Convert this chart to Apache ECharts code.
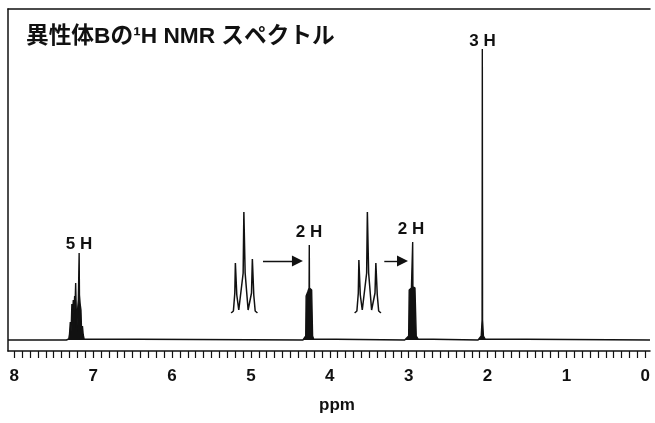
<!DOCTYPE html>
<html><head><meta charset="utf-8">
<script src="https://cdn.jsdelivr.net/npm/echarts@6/dist/echarts.min.js"></script>
<style>html,body{margin:0;padding:0;background:#fff}#c{width:655px;height:423px}</style>
</head><body><div id="c"></div>
<script>
// ---- text ----
const titleText = '異性体Bの¹H NMR スペクトル';
const axisName = 'ppm';
const tickLabelValues = [0, 1, 2, 3, 4, 5, 6, 7, 8];
const tickStep = 0.1;

// ---- peak annotations (label text, label centre ppm, label centre intensity) ----
const peakLabels = ['5 H', '2 H', '2 H', '3 H'];
const peakLabelPpm = [7.18, 4.264, 2.97, 2.064];
const peakLabelInt = [95.5, 108, 110.5, 299];

// ---- arrows from insets to multiplets (start ppm, end ppm, intensity) ----
const arrowFromPpm = [4.847, 3.309];
const arrowToPpm = [4.41, 3.078];
const arrowInt = [79, 79];

// ---- main spectrum (ppm, intensity) ----
const specPpm = [8.08,
  7.34, 7.31, 7.30, 7.29, 7.28, 7.27, 7.26, 7.252, 7.245, 7.235, 7.228, 7.222, 7.216, 7.208, 7.198, 7.188, 7.178, 7.174, 7.165, 7.155, 7.146, 7.136, 7.126, 7.115, 7.09,
  4.34, 4.315, 4.305, 4.300, 4.29, 4.28, 4.27, 4.2625, 4.260, 4.2575, 4.25, 4.24, 4.23, 4.222, 4.218, 4.205, 4.18,
  3.05, 3.025, 3.00, 2.993, 2.98, 2.965, 2.952, 2.949, 2.946, 2.935, 2.92, 2.908, 2.904, 2.88, 2.86,
  2.12, 2.10, 2.08, 2.069, 2.066, 2.063, 2.052, 2.03, 2.01,
  -0.06];
const specInt = [0,
  0, 1, 6, 18, 9, 36, 28, 40, 26, 44, 40, 57, 35, 8, 30, 40, 87, 45, 36, 30, 6, 14, 5, 1, 0,
  0, 1, 4, 44, 46, 48, 50, 52, 95, 52, 51, 51, 50, 50, 4, 1, 0,
  0, 1, 4, 50, 51, 52, 53, 98, 53, 52, 52, 52, 4, 1, 0,
  0, 1, 4, 20, 291, 20, 4, 1, 0,
  0];

// ---- expanded inset of the 4.26 ppm triplet ----
const inset1Ppm = [4.306, 4.298, 4.293, 4.291, 4.289, 4.286, 4.279, 4.274, 4.2635, 4.261, 4.259, 4.2565, 4.246, 4.241, 4.234, 4.231, 4.229, 4.226, 4.221, 4.213];
const inset1Int = [0, 2, 20, 50, 50, 18, 3, 3, 40, 101, 101, 40, 3, 3, 20, 54, 54, 18, 2, 0];
// ---- expanded inset of the 2.95 ppm triplet ----
const inset2Ppm = [2.996, 2.988, 2.983, 2.981, 2.979, 2.976, 2.969, 2.964, 2.9535, 2.951, 2.949, 2.9465, 2.936, 2.931, 2.924, 2.921, 2.919, 2.916, 2.911, 2.903];
const inset2Int = [0, 2, 20, 53, 53, 18, 3, 3, 40, 101, 101, 40, 3, 3, 20, 50, 50, 18, 2, 0];

const INK = '#111';
const FONT = '"Liberation Sans", Arial, "Noto Sans CJK JP", sans-serif';
const zip = (a, b) => a.map((v, i) => [v, b[i]]);
const tickValues = [];
for (let i = 0; i <= Math.round(8 / tickStep); i++) tickValues.push(+(i * tickStep).toFixed(1));

const chart = echarts.init(document.getElementById('c'), null, {renderer: 'canvas'});
const hiddenAxis = {show: false};
chart.setOption({
  animation: false,
  backgroundColor: '#fff',
  title: {
    text: titleText, left: 21, top: 20,
    textStyle: {fontFamily: FONT, fontSize: 22.7, fontWeight: 'bold', color: INK}
  },
  grid: [
    {left: 8, right: 5, top: 9, bottom: 72},
    {left: 230, width: 28.3, top: 205, height: 108},
    {left: 353.5, width: 28.3, top: 205, height: 108}
  ],
  xAxis: [
    {
      type: 'value', gridIndex: 0, min: -0.06, max: 8.08, inverse: true, position: 'bottom',
      name: axisName, nameLocation: 'middle', nameGap: 46,
      nameTextStyle: {fontFamily: FONT, fontSize: 17, fontWeight: 'bold', color: INK, padding: [0, 0, 0, 16]},
      axisLine: {show: true, onZero: false, lineStyle: {color: INK, width: 1.5}},
      axisTick: {show: true, length: 7, customValues: tickValues, lineStyle: {color: INK, width: 1.2}},
      axisLabel: {customValues: tickLabelValues, margin: 17, fontFamily: FONT, fontSize: 17, fontWeight: 'bold', color: INK},
      splitLine: {show: false}
    },
    {
      type: 'value', gridIndex: 0, min: -0.06, max: 8.08, inverse: true, position: 'top',
      axisLine: {show: true, onZero: false, lineStyle: {color: INK, width: 1.5}},
      axisTick: {show: false}, axisLabel: {show: false}, splitLine: {show: false}
    },
    Object.assign({type: 'value', gridIndex: 1, min: 4.21, max: 4.31, inverse: true}, hiddenAxis),
    Object.assign({type: 'value', gridIndex: 2, min: 2.90, max: 3.00, inverse: true}, hiddenAxis)
  ],
  yAxis: [
    {
      type: 'value', gridIndex: 0, min: -11, max: 331,
      axisLine: {show: true, onZero: false, lineStyle: {color: INK, width: 1.5}},
      axisTick: {show: false}, axisLabel: {show: false}, splitLine: {show: false}
    },
    Object.assign({type: 'value', gridIndex: 1, min: 0, max: 108}, hiddenAxis),
    Object.assign({type: 'value', gridIndex: 2, min: 0, max: 108}, hiddenAxis)
  ],
  series: [
    {
      type: 'line', xAxisIndex: 0, yAxisIndex: 0, data: zip(specPpm, specInt),
      showSymbol: false, silent: true,
      lineStyle: {color: INK, width: 1.4},
      areaStyle: {color: INK, opacity: 1},
      markLine: {
        silent: true, symbol: ['none', 'triangle'], symbolSize: 11,
        label: {show: false},
        lineStyle: {color: INK, width: 1.4, type: 'solid'},
        itemStyle: {color: INK},
        data: arrowFromPpm.map((p, i) => [{coord: [p, arrowInt[i]]}, {coord: [arrowToPpm[i], arrowInt[i]]}])
      },
      markPoint: {
        silent: true, symbol: 'circle', symbolSize: 0,
        label: {show: true, position: 'inside', formatter: p => p.name, fontFamily: FONT, fontSize: 17, fontWeight: 'bold', color: INK},
        data: peakLabels.map((t, i) => ({name: t, coord: [peakLabelPpm[i], peakLabelInt[i]]}))
      }
    },
    {
      type: 'line', xAxisIndex: 2, yAxisIndex: 1, data: zip(inset1Ppm, inset1Int),
      showSymbol: false, silent: true, lineStyle: {color: INK, width: 1.5}
    },
    {
      type: 'line', xAxisIndex: 3, yAxisIndex: 2, data: zip(inset2Ppm, inset2Int),
      showSymbol: false, silent: true, lineStyle: {color: INK, width: 1.5}
    }
  ]
});
</script></body></html>
